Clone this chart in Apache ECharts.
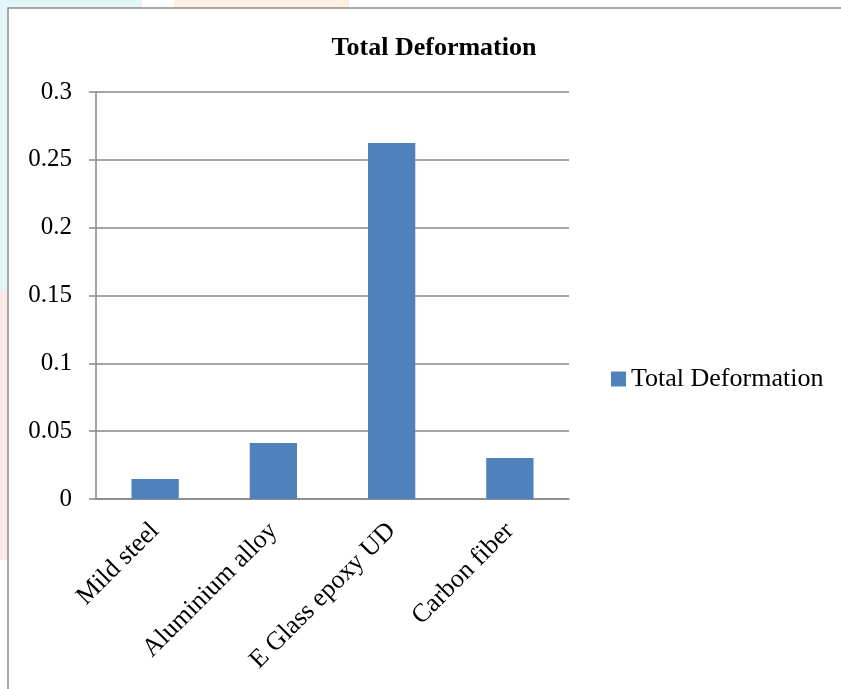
<!DOCTYPE html>
<html>
<head>
<meta charset="utf-8">
<script src="https://cdn.jsdelivr.net/npm/echarts@6/dist/echarts.min.js"></script>
<style>
  html, body { margin: 0; padding: 0; background: #fff; }
  #chart { width: 841px; height: 689px; }
</style>
</head>
<body>
<div id="chart"></div>
<script>
const categories = ['Mild steel', 'Aluminium alloy', 'E Glass epoxy UD', 'Carbon fiber']
const deformation = [0.0148, 0.0412, 0.2624, 0.0302]
const yTickLabels = ['0', '0.05', '0.1', '0.15', '0.2', '0.25', '0.3']
const seriesName = 'Total Deformation'

const font = 'Liberation Serif, Times New Roman, serif'
const grey = '#868686'

const chart = echarts.init(document.getElementById('chart'))

chart.setOption({
  backgroundColor: '#fff',
  animation: false,
  title: {
    text: 'Total Deformation',
    left: 429,
    top: 30,
    textAlign: 'center',
    textStyle: { fontFamily: font, fontSize: 26, fontWeight: 'bold', color: '#000' },
  },
  graphic: [
    // faint page background bleeding in around the frame
    { type: 'rect', shape: { x: 0, y: 0, width: 8, height: 290 }, style: { fill: '#e2f5f9' }, silent: true },
    { type: 'rect', shape: { x: 0, y: 290, width: 8, height: 270 }, style: { fill: '#fde9e9' }, silent: true },
    { type: 'rect', shape: { x: 0, y: 0, width: 142, height: 8 }, style: { fill: '#e2f5f9' }, silent: true },
    { type: 'rect', shape: { x: 174, y: 0, width: 175, height: 8 }, style: { fill: '#fdf0e2' }, silent: true },
    {
      type: 'rect',
      shape: { x: 8, y: 8, width: 900, height: 800 },
      style: { fill: 'none', stroke: '#8c8c8c', lineWidth: 1.5 },
      silent: true,
    },
  ],
  legend: {
    left: 606,
    top: 361,
    itemWidth: 15,
    itemHeight: 15,
    icon: 'rect',
    textStyle: { fontFamily: font, fontSize: 26, color: '#000' },
    data: [seriesName],
  },
  grid: { left: 96, right: 272, top: 92, bottom: 190 },
  xAxis: {
    type: 'category',
    data: categories,
    axisLine: { lineStyle: { color: grey, width: 1.5 } },
    axisTick: { length: 7, lineStyle: { color: grey, width: 1.5 } },
    axisLabel: {
      rotate: 45,
      margin: 28,
      fontFamily: font,
      fontSize: 26,
      color: '#000',
    },
  },
  yAxis: {
    type: 'value',
    min: 0,
    max: 0.3,
    interval: 0.05,
    axisLine: { show: true, lineStyle: { color: grey, width: 1.5 } },
    axisTick: { show: true, length: 7, lineStyle: { color: grey, width: 1.5 } },
    splitLine: { lineStyle: { color: grey, width: 1.5 } },
    axisLabel: {
      margin: 24,
      fontFamily: font,
      fontSize: 25,
      color: '#000',
      formatter: (v) => yTickLabels[Math.round(v / 0.05)],
    },
  },
  series: [
    {
      name: seriesName,
      type: 'bar',
      data: deformation,
      barWidth: '40%',
      itemStyle: { color: '#4f81bd' },
    },
  ],
})
</script>
</body>
</html>
